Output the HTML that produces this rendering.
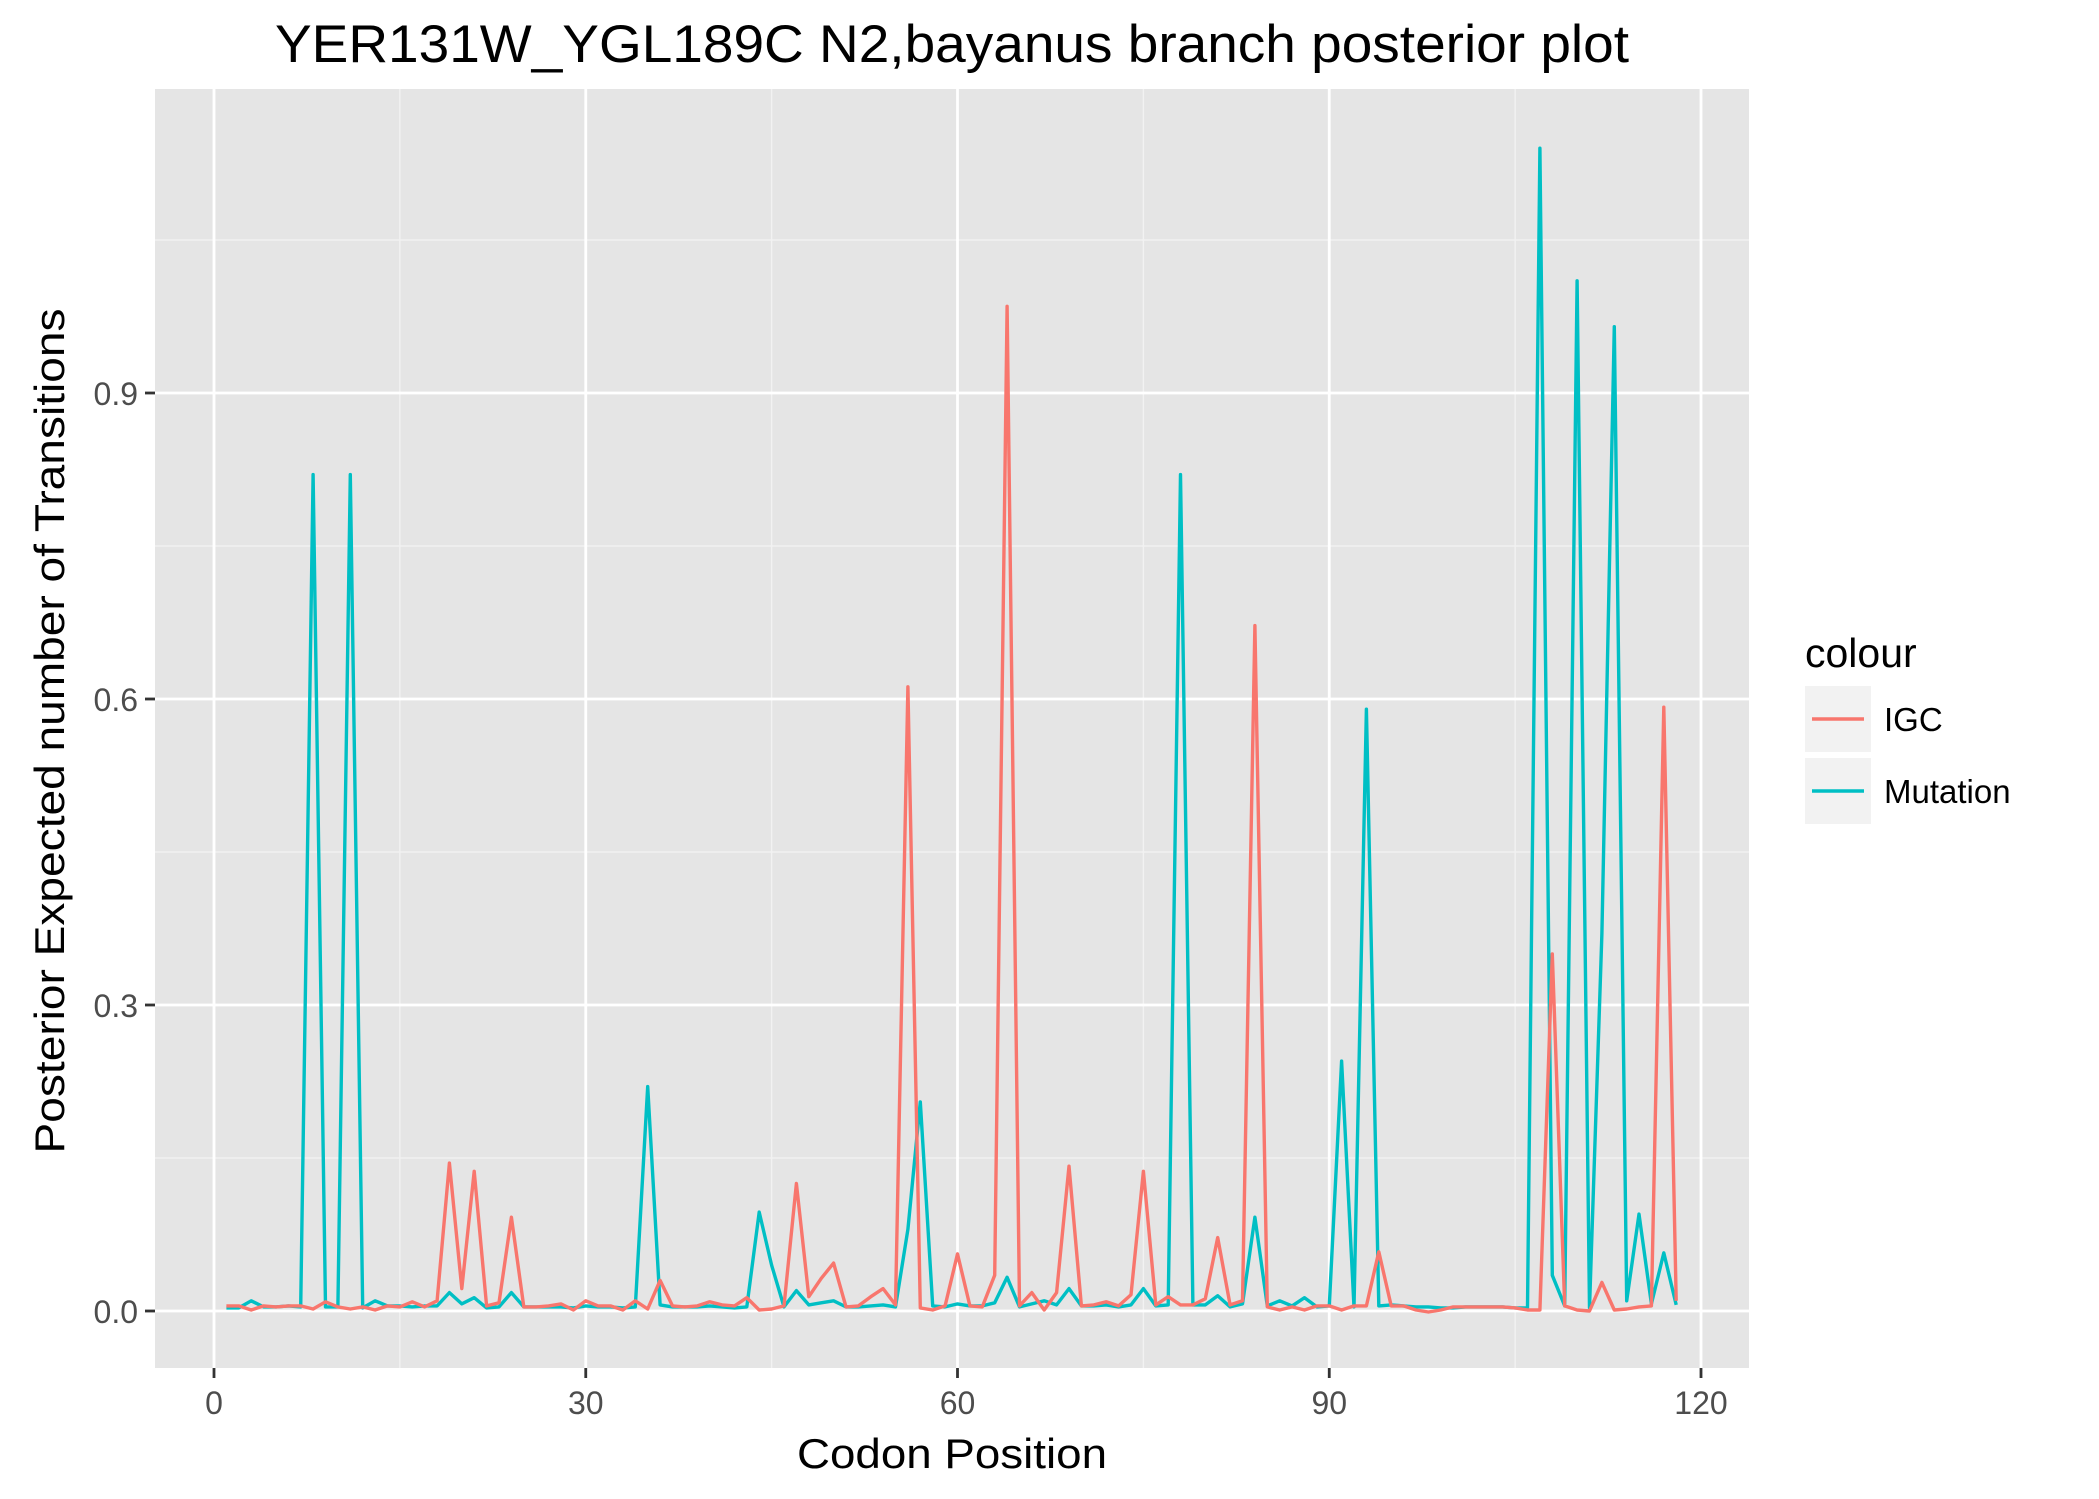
<!DOCTYPE html>
<html><head><meta charset="utf-8"><style>
html,body{margin:0;padding:0;background:#fff;}
svg{display:block;font-family:"Liberation Sans",Arial,sans-serif;}
</style></head><body>
<svg id="chart" width="2099" height="1499" viewBox="0 0 2099 1499" xmlns="http://www.w3.org/2000/svg">
<rect width="2099" height="1499" fill="#fff"/>
<text x="952" y="62" text-anchor="middle" font-size="53" textLength="1354" lengthAdjust="spacingAndGlyphs" fill="#000">YER131W_YGL189C N2,bayanus branch posterior plot</text>
<rect x="155" y="89" width="1594" height="1279" fill="#e5e5e5"/>
<g id="grid"></g>
<g id="series"></g>
<g id="axes"></g>
<text x="952" y="1468" text-anchor="middle" font-size="42" textLength="310" lengthAdjust="spacingAndGlyphs" fill="#000">Codon Position</text>
<text transform="translate(64,731) rotate(-90)" text-anchor="middle" font-size="42" textLength="845" lengthAdjust="spacingAndGlyphs" fill="#000">Posterior Expected number of Transitions</text>
<g>
<text x="1805" y="667" font-size="41" fill="#000">colour</text>
<g>
<rect x="1805" y="686" width="66" height="66" fill="#f2f2f2"/>
<line x1="1812" y1="719" x2="1864" y2="719" stroke="#F8766D" stroke-width="3.5"/>
<text x="1884" y="731" font-size="33" fill="#000">IGC</text>
</g>
<g>
<rect x="1805" y="758" width="66" height="66" fill="#f2f2f2"/>
<line x1="1812" y1="791" x2="1864" y2="791" stroke="#00BFC4" stroke-width="3.5"/>
<text x="1884" y="803" font-size="33" fill="#000">Mutation</text>
</g>
</g>
</svg>
<script>
const xTicks = [0, 30, 60, 90, 120];
const xMinor = [15, 45, 75, 105];
const yTicks = [0, 0.3, 0.6, 0.9];
const yTickLabels = ["0.0", "0.3", "0.6", "0.9"];
const yMinor = [0.15, 0.45, 0.75, 1.05];
const mutation = [0.003,0.003,0.01,0.004,0.004,0.005,0.004,0.82,0.004,0.004,0.82,0.003,0.01,0.005,0.005,0.004,0.005,0.005,0.018,0.007,0.013,0.003,0.004,0.018,0.004,0.004,0.004,0.004,0.003,0.005,0.004,0.004,0.003,0.004,0.22,0.006,0.004,0.004,0.004,0.005,0.004,0.003,0.004,0.097,0.045,0.004,0.02,0.006,0.008,0.01,0.004,0.004,0.005,0.006,0.004,0.08,0.205,0.005,0.004,0.007,0.005,0.005,0.008,0.033,0.004,0.007,0.01,0.006,0.022,0.005,0.005,0.006,0.004,0.006,0.022,0.005,0.006,0.82,0.006,0.006,0.015,0.004,0.007,0.092,0.005,0.01,0.005,0.013,0.004,0.005,0.245,0.004,0.59,0.005,0.006,0.005,0.004,0.004,0.003,0.003,0.004,0.004,0.004,0.004,0.003,0.003,1.14,0.035,0.005,1.01,0.003,0.37,0.965,0.01,0.095,0.007,0.057,0.006];
const igc = [0.005,0.005,0.001,0.005,0.004,0.005,0.005,0.002,0.009,0.004,0.002,0.004,0.001,0.005,0.004,0.009,0.004,0.01,0.145,0.022,0.137,0.005,0.008,0.092,0.004,0.004,0.005,0.007,0.001,0.01,0.005,0.005,0.001,0.01,0.002,0.03,0.005,0.004,0.005,0.009,0.006,0.005,0.013,0.001,0.002,0.005,0.125,0.014,0.032,0.047,0.004,0.005,0.014,0.022,0.006,0.612,0.003,0.001,0.005,0.056,0.005,0.004,0.035,0.985,0.005,0.018,0.001,0.018,0.142,0.005,0.006,0.009,0.005,0.016,0.137,0.006,0.014,0.006,0.006,0.012,0.072,0.006,0.01,0.672,0.004,0.001,0.004,0.001,0.005,0.005,0.001,0.005,0.005,0.058,0.005,0.005,0.001,-0.001,0.001,0.004,0.004,0.004,0.004,0.004,0.003,0.001,0.001,0.35,0.005,0.001,0.0,0.028,0.001,0.002,0.004,0.005,0.592,0.01];

const NS = "http://www.w3.org/2000/svg";
const PL = 155, PR = 1749, PT = 89, PB = 1368;
function xs(v){ return 214 + v * (1701 - 214) / 120; }
function ys(v){ return 1311 - v * 1020; }
function mk(tag, attrs, parent){
  const e = document.createElementNS(NS, tag);
  for (const k in attrs) e.setAttribute(k, attrs[k]);
  parent.appendChild(e); return e;
}
const grid = document.getElementById('grid');
const axes = document.getElementById('axes');
const series = document.getElementById('series');
xMinor.forEach(v => {
  const l = mk('line', {x1: xs(v), x2: xs(v), y1: PT, y2: PB, stroke: '#f2f2f2', 'stroke-width': 1.4}, grid);
  
  
});
yMinor.forEach(v => {
  const l = mk('line', {x1: PL, x2: PR, y1: ys(v), y2: ys(v), stroke: '#f2f2f2', 'stroke-width': 1.4}, grid);
  
  
});
xTicks.forEach(v => {
  const l = mk('line', {x1: xs(v), x2: xs(v), y1: PT, y2: PB, stroke: '#fff', 'stroke-width': 2.8}, grid);
  
  
  const t = mk('line', {x1: xs(v), x2: xs(v), y1: PB, y2: PB + 10, stroke: '#333', 'stroke-width': 2.8}, axes);
  
  
  const tx = mk('text', {x: xs(v), y: PB + 46, 'text-anchor': 'middle', 'font-size': 32, fill: '#4d4d4d'}, axes);
  tx.textContent = String(v);
  
  
});
yTicks.forEach((v, i) => {
  const l = mk('line', {x1: PL, x2: PR, y1: ys(v), y2: ys(v), stroke: '#fff', 'stroke-width': 2.8}, grid);
  
  
  const t = mk('line', {x1: PL - 10, x2: PL, y1: ys(v), y2: ys(v), stroke: '#333', 'stroke-width': 2.8}, axes);
  
  
  const tx = mk('text', {x: PL - 17, y: ys(v) + 12, 'text-anchor': 'end', 'font-size': 32, fill: '#4d4d4d'}, axes);
  tx.textContent = yTickLabels[i];
  
  
});
function drawLine(vals, color, name){
  const pts = vals.map((v, i) => xs(i + 1).toFixed(1) + ',' + ys(v).toFixed(1)).join(' ');
  const p = mk('polyline', {points: pts, fill: 'none', stroke: color, 'stroke-width': 3.4, 'stroke-linejoin': 'round'}, series);
  
  
}
drawLine(mutation, '#00BFC4', 'mutation-line');
drawLine(igc, '#F8766D', 'igc-line');
</script>
</body></html>
